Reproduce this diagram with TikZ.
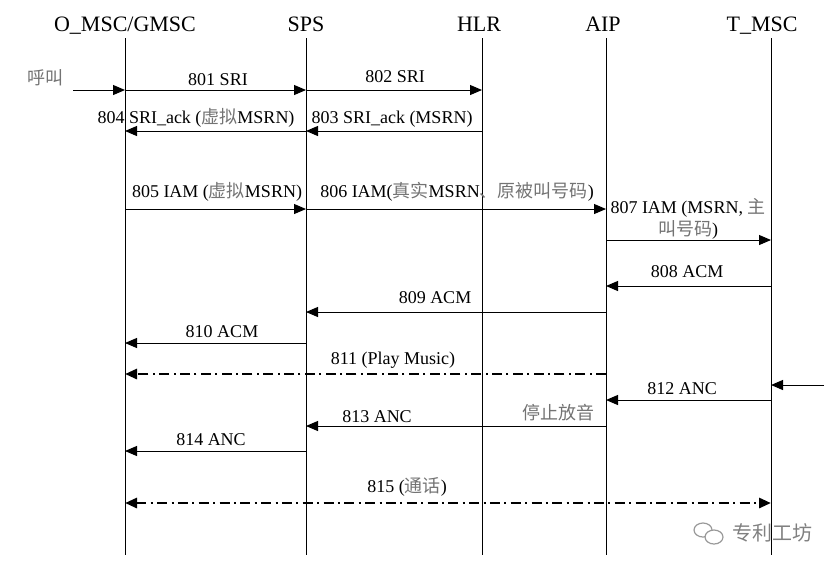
\documentclass[tikz,border=0pt]{standalone}
\usepackage{fontspec}
\setmainfont{Liberation Serif}
\newfontfamily\cjk{Noto Sans CJK SC}
\usetikzlibrary{arrows.meta}
\newcommand{\zh}[1]{{\color{black!55}\cjk #1}}
\begin{document}
\begin{tikzpicture}[x=0.5pt,y=-0.5pt,
	head/.style={anchor=base,inner sep=0pt,font=\fontsize{11}{13}\selectfont},
	lbl/.style={anchor=base,inner sep=0pt,font=\fontsize{9}{11}\selectfont},
	msg/.style={line width=0.5pt,-{Triangle[length=6pt,width=5pt]}},
	media/.style={line width=1.4pt,dash pattern=on 5pt off 2.2pt on 1pt off 2.2pt,
		-{Triangle[length=6pt,width=5pt]}}]
	\useasboundingbox (0,0) rectangle (839,570);
	
	% entities
	\node[head] (omsc) at (125,31) {O\_MSC/GMSC};
	\node[head] (sps) at (306,31) {SPS};
	\node[head] (hlr) at (479,31) {HLR};
	\node[head] (aip) at (603,31) {AIP};
	\node[head] (tmsc) at (762,31) {T\_MSC};
	
	% lifelines
	\coordinate (omscT) at (125,38); \coordinate (omscB) at (125,555);
	\coordinate (spsT) at (306,38);  \coordinate (spsB) at (306,555);
	\coordinate (hlrT) at (482,38);  \coordinate (hlrB) at (482,555);
	\coordinate (aipT) at (606,38);  \coordinate (aipB) at (606,555);
	\coordinate (tmscT) at (771,38); \coordinate (tmscB) at (771,555);
	\foreach \e in {omsc,sps,hlr,aip,tmsc}
		\draw[line width=0.5pt] (\e T) -- (\e B);
	
	% message levels
	\coordinate (m801) at (0,90);
	\coordinate (m803) at (0,131);
	\coordinate (m805) at (0,209);
	\coordinate (m807) at (0,240);
	\coordinate (m808) at (0,286);
	\coordinate (m809) at (0,312);
	\coordinate (m810) at (0,343);
	\coordinate (m811) at (0,374);
	\coordinate (min) at (0,385);
	\coordinate (m812) at (0,400);
	\coordinate (m813) at (0,426);
	\coordinate (m814) at (0,451);
	\coordinate (m815) at (0,503);
	\coordinate (caller) at (73,90);
	\coordinate (callee) at (824,385);
	
	% call setup
	\node[lbl] (call) at (45,84) {\zh{呼叫}};
	\draw[msg] (caller) -- (omscT |- m801);
	\draw[msg] (omscT |- m801) -- (spsT |- m801);
	\node[lbl] (l801) at (218,85) {801 SRI};
	\draw[msg] (spsT |- m801) -- (hlrT |- m801);
	\node[lbl] (l802) at (395,82) {802 SRI};
	\draw[msg] (hlrT |- m803) -- (spsT |- m803);
	\node[lbl] (l803) at (392,123) {803 SRI\_ack (MSRN)};
	\draw[msg] (spsT |- m803) -- (omscT |- m803);
	\node[lbl] (l804) at (196,123) {804 SRI\_ack (\zh{虚拟}MSRN)};
	\draw[msg] (omscT |- m805) -- (spsT |- m805);
	\node[lbl] (l805) at (217,197) {805 IAM (\zh{虚拟}MSRN)};
	\draw[msg] (spsT |- m805) -- (aipT |- m805);
	\node[lbl] (l806) at (457,197) {806 IAM(\zh{真实}MSRN\zh{、原被叫号码})};
	\draw[msg] (aipT |- m807) -- (tmscT |- m807);
	\node[lbl,anchor=center,align=center] (l807) at (688,219) {807 IAM (MSRN, \zh{主}\\\zh{叫号码})};
	
	% alerting
	\draw[msg] (tmscT |- m808) -- (aipT |- m808);
	\node[lbl] (l808) at (687,277) {808 ACM};
	\draw[msg] (aipT |- m809) -- (spsT |- m809);
	\node[lbl] (l809) at (435,303) {809 ACM};
	\draw[msg] (spsT |- m810) -- (omscT |- m810);
	\node[lbl] (l810) at (222,337) {810 ACM};
	\draw[media] (aipT |- m811) -- (omscT |- m811);
	\node[lbl] (l811) at (393,364) {811 (Play Music)};
	
	% answer
	\draw[msg] (callee) -- (tmscT |- min);
	\draw[msg] (tmscT |- m812) -- (aipT |- m812);
	\node[lbl] (l812) at (682,394) {812 ANC};
	\node[lbl] (stop) at (558,419) {\zh{停止放音}};
	\draw[msg] (aipT |- m813) -- (spsT |- m813);
	\node[lbl] (l813) at (377,422) {813 ANC};
	\draw[msg] (spsT |- m814) -- (omscT |- m814);
	\node[lbl] (l814) at (211,445) {814 ANC};
	\draw[media,{Triangle[length=6pt,width=5pt]}-{Triangle[length=6pt,width=5pt]}] (omscT |- m815) -- (tmscT |- m815);
	\node[lbl] (l815) at (407,492) {815 (\zh{通话})};
	
	% watermark
	\draw[black!40,line width=0.6pt] (703,530) ellipse (9 and 7);
	\draw[black!40,line width=0.6pt,fill=white] (714,537) ellipse (9 and 7);
	\node[anchor=base,inner sep=0pt,font=\cjk\fontsize{10}{12}\selectfont,black!50] (mark) at (772,540) {专利工坊};
\end{tikzpicture}
\end{document}
